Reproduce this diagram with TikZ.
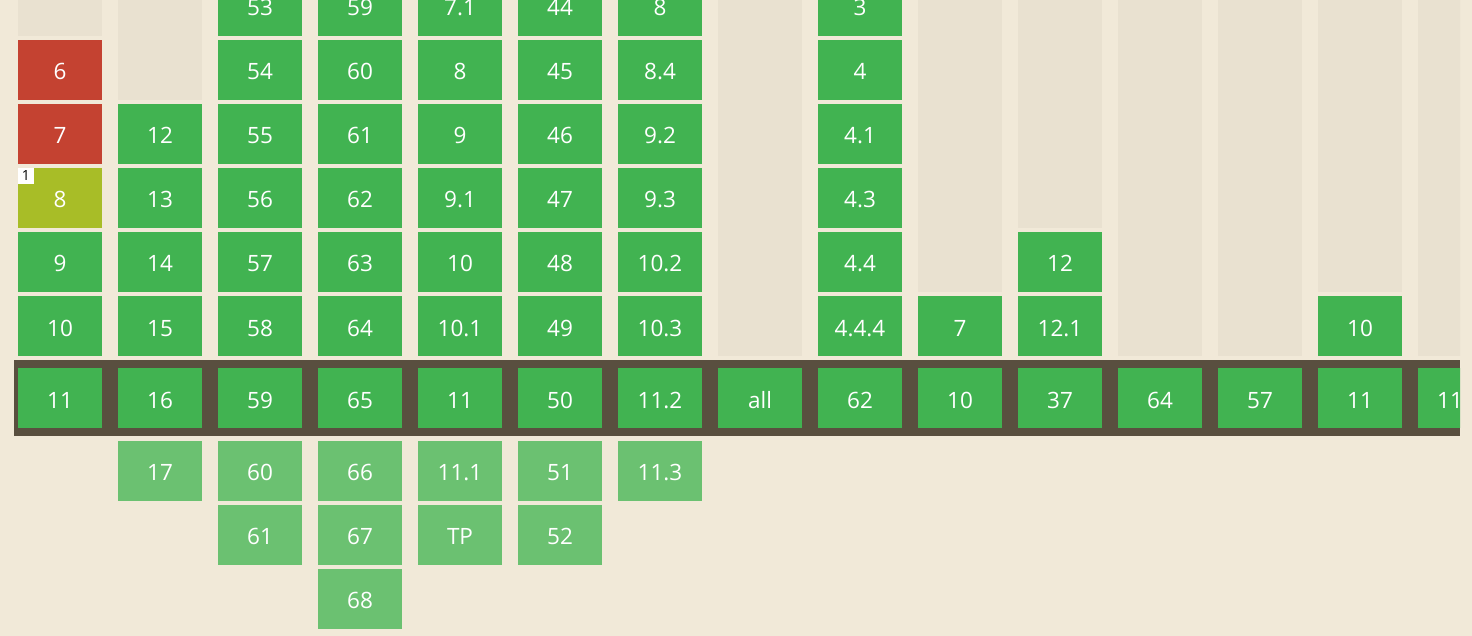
\documentclass[tikz,border=0pt]{standalone}
\usepackage{fontspec}
\setmainfont{Open Sans}
\definecolor{bg}{HTML}{F1E9D8}
\definecolor{gry}{HTML}{E9E1D0}
\definecolor{yes}{HTML}{41B351}
\definecolor{fut}{HTML}{6BC171}
\definecolor{nosup}{HTML}{C44231}
\definecolor{part}{HTML}{A8BD27}
\definecolor{band}{HTML}{594F3F}
\tikzset{
  cellbox/.style={minimum width=84pt, minimum height=60pt, inner sep=0pt, outer sep=0pt,
    text=white, font=\fontsize{22.5}{27}\selectfont, text height=20pt, text depth=0pt},
  ycell/.style={cellbox, fill=yes},
  fcell/.style={cellbox, fill=fut},
  ncell/.style={cellbox, fill=nosup},
  pcell/.style={cellbox, fill=part},
  greycol/.style={fill=gry},
  notebox/.style={fill=white, text=black, minimum size=16pt, inner sep=0pt, outer sep=0pt,
    font=\fontsize{14}{16}\selectfont, anchor=north west}
}
\begin{document}
\begin{tikzpicture}[x=1pt,y=-1pt]
\useasboundingbox (0,0) rectangle (1472,636);
\fill[bg] (0,0) rectangle (1472,636);
\begin{scope}
\clip (0,0) rectangle (1460,636);
% empty (grey) column parts
\fill[greycol] (18,-30) rectangle (102,36);
\fill[greycol] (118,-30) rectangle (202,100);
\fill[greycol] (718,-30) rectangle (802,356);
\fill[greycol] (918,-30) rectangle (1002,292);
\fill[greycol] (1018,-30) rectangle (1102,228);
\fill[greycol] (1118,-30) rectangle (1202,356);
\fill[greycol] (1218,-30) rectangle (1302,356);
\fill[greycol] (1318,-30) rectangle (1402,292);
\fill[greycol] (1418,-30) rectangle (1502,356);
% current row band
\fill[band] (14,360) rectangle (1460,436);
% column 0
\node[ncell] (c0p1) at (60,70) {6};
\node[ncell] (c0p2) at (60,134) {7};
\node[pcell] (c0p3) at (60,198) {8};
\node[ycell] (c0p4) at (60,262) {9};
\node[ycell] (c0p5) at (60,326) {10};
\node[notebox] (note1) at (18,168) {1};
% column 1
\foreach \t [count=\r from 2] in {12,13,14,15}
  \node[ycell] (c1p\r) at (160,{6+64*\r}) {\t};
% columns with six past versions
\foreach \t [count=\r from 0] in {53,54,55,56,57,58}
  \node[ycell] (c2p\r) at (260,{6+64*\r}) {\t};
\foreach \t [count=\r from 0] in {59,60,61,62,63,64}
  \node[ycell] (c3p\r) at (360,{6+64*\r}) {\t};
\foreach \t [count=\r from 0] in {7.1,8,9,9.1,10,10.1}
  \node[ycell] (c4p\r) at (460,{6+64*\r}) {\t};
\foreach \t [count=\r from 0] in {44,45,46,47,48,49}
  \node[ycell] (c5p\r) at (560,{6+64*\r}) {\t};
\foreach \t [count=\r from 0] in {8,8.4,9.2,9.3,10.2,10.3}
  \node[ycell] (c6p\r) at (660,{6+64*\r}) {\t};
\foreach \t [count=\r from 0] in {3,4,4.1,4.3,4.4,4.4.4}
  \node[ycell] (c8p\r) at (860,{6+64*\r}) {\t};
\node[ycell] (c9p5) at (960,326) {7};
\node[ycell] (c10p4) at (1060,262) {12};
\node[ycell] (c10p5) at (1060,326) {12.1};
\node[ycell] (c13p5) at (1360,326) {10};
% current versions
\foreach \t [count=\c from 0] in {11,16,59,65,11,50,11.2,all,62,10,37,64,57,11}
  \node[ycell] (cur\c) at ({60+100*\c},398) {\t};
\node[ycell, minimum width=64pt] (cur14) at (1450,398) {11};
% future versions
\node[fcell] (c1f0) at (160,470.5) {17};
\node[fcell] (c2f0) at (260,470.5) {60};
\node[fcell] (c2f1) at (260,534.5) {61};
\node[fcell] (c3f0) at (360,470.5) {66};
\node[fcell] (c3f1) at (360,534.5) {67};
\node[fcell] (c3f2) at (360,598.5) {68};
\node[fcell] (c4f0) at (460,470.5) {11.1};
\node[fcell] (c4f1) at (460,534.5) {TP};
\node[fcell] (c5f0) at (560,470.5) {51};
\node[fcell] (c5f1) at (560,534.5) {52};
\node[fcell] (c6f0) at (660,470.5) {11.3};
\end{scope}
\end{tikzpicture}
\end{document}
